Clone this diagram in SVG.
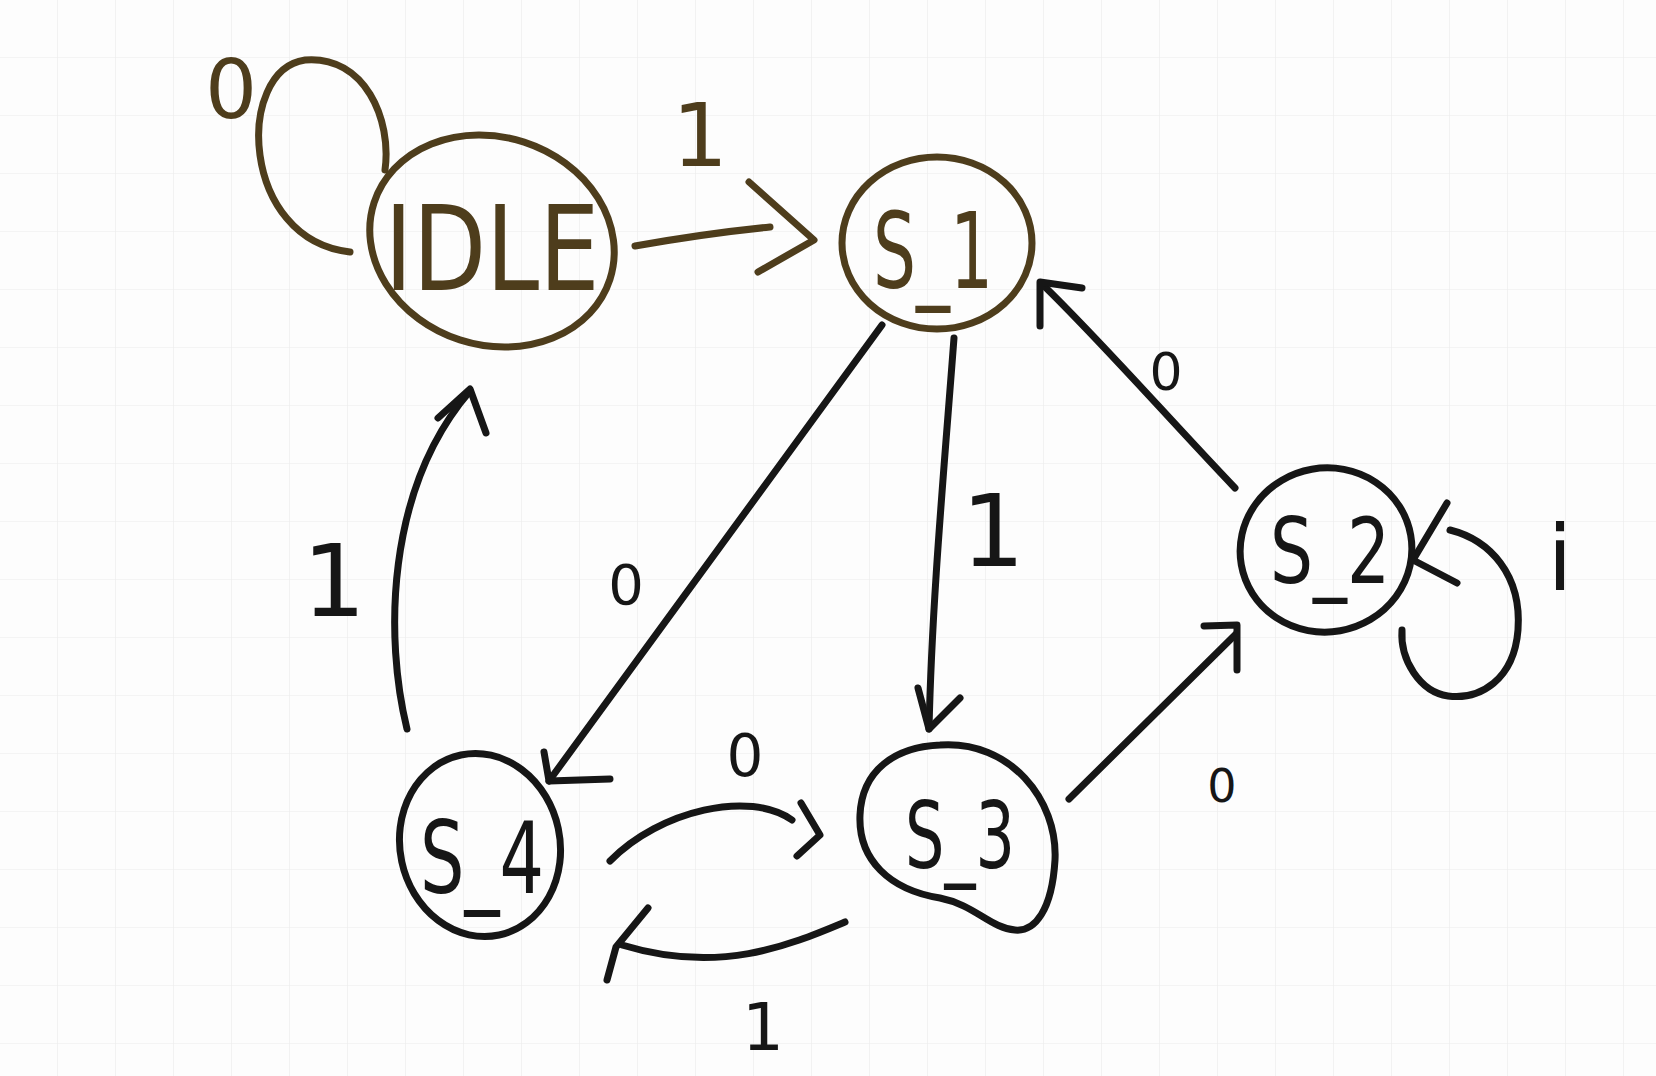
<svg xmlns="http://www.w3.org/2000/svg" width="1656" height="1076" viewBox="0 0 1656 1076">
<defs>
<pattern id="grid" width="58" height="58" patternUnits="userSpaceOnUse">
<path d="M58 0 V58 M0 58 H58" fill="none" stroke="#ececec" stroke-width="1.2"/>
</pattern>
<style>
.brown{stroke:#4e3d1c;fill:none;stroke-width:7;stroke-linecap:round;stroke-linejoin:round}
.dark{stroke:#161616;fill:none;stroke-width:7;stroke-linecap:round;stroke-linejoin:round}
.nodeb{fill:#4e3d1c;font-family:"DejaVu Sans","Liberation Sans",sans-serif;text-anchor:middle}
.noded{fill:#161616;font-family:"DejaVu Sans","Liberation Sans",sans-serif;text-anchor:middle}
.lbl{font-family:"DejaVu Sans","Liberation Sans",sans-serif;text-anchor:middle}
</style>
</defs>
<rect width="1656" height="1076" fill="#fdfdfd"/>
<rect width="1656" height="1076" fill="url(#grid)"/>

<g id="connectors">
<g id="e-idle-idle">
<path class="brown" d="M350 252 C 240 240, 235 70, 305 60 C 365 55, 392 120, 385 170"/>
<text class="lbl" x="231" y="118" font-size="82" fill="#4e3d1c">0</text>
</g>
<g id="e-idle-s1">
<path class="brown" d="M635 246 C 680 238, 720 232, 770 227"/>
<path class="brown" d="M749 182 L 814 240 L 758 272"/>
<text class="lbl" x="700" y="166" font-size="88" fill="#4e3d1c">1</text>
</g>
<g id="e-s1-s4">
<path class="dark" d="M882 325 L 549 781"/>
<path class="dark" d="M544 752 L 549 781 L 610 779"/>
<text class="lbl" x="626" y="604" font-size="56" fill="#161616">0</text>
</g>
<g id="e-s1-s3">
<path class="dark" d="M954 338 C 944 470, 932 600, 929 729"/>
<path class="dark" d="M918 688 L 929 729 L 960 698"/>
<text class="lbl" x="993" y="566" font-size="100" fill="#161616">1</text>
</g>
<g id="e-s2-s1">
<path class="dark" d="M1235 488 C 1170 420, 1100 340, 1042 284"/>
<path class="dark" d="M1040 326 L 1040 282 L 1082 288"/>
<text class="lbl" x="1166" y="390" font-size="52" fill="#161616">0</text>
</g>
<g id="e-s2-s2">
<path class="dark" d="M1450 530 C 1490 540, 1522 575, 1518 630 C 1514 680, 1480 700, 1448 696 C 1420 692, 1400 660, 1402 630"/>
<path class="dark" d="M1447 503 L 1413 560 L 1457 583"/>
<text class="lbl" x="1560" y="590" font-size="90" fill="#161616">i</text>
</g>
<g id="e-s3-s2">
<path class="dark" d="M1069 799 L 1236 634"/>
<path class="dark" d="M1204 626 L 1237 625 L 1237 670"/>
<text class="lbl" x="1222" y="802" font-size="46" fill="#161616">0</text>
</g>
<g id="e-s4-idle">
<path class="dark" d="M407 729 C 385 640, 385 490, 470 391"/>
<path class="dark" d="M438 418 L 470 389 L 486 433"/>
<text class="lbl" x="334" y="616" font-size="100" fill="#161616">1</text>
</g>
<g id="e-s4-s3">
<path class="dark" d="M610 861 C 660 810, 750 790, 792 820"/>
<path class="dark" d="M801 803 L 820 835 L 797 856"/>
<text class="lbl" x="745" y="776" font-size="58" fill="#161616">0</text>
</g>
<g id="e-s3-s4">
<path class="dark" d="M845 922 C 790 945, 720 975, 622 945"/>
<path class="dark" d="M648 908 L 616 947 L 607 980"/>
<text class="lbl" x="763" y="1050" font-size="66" fill="#161616">1</text>
</g>
</g>

<g id="node-idle">
<ellipse class="brown" cx="492" cy="241" rx="124" ry="104" transform="rotate(18 492 241)"/>
<text class="nodeb" x="492" y="290" font-size="118" textLength="215" lengthAdjust="spacingAndGlyphs">IDLE</text>
</g>
<g id="node-s1">
<ellipse class="brown" cx="937" cy="243" rx="95" ry="86"/>
<text class="nodeb" x="933" y="288" font-size="105" textLength="120" lengthAdjust="spacingAndGlyphs">S_1</text>
</g>
<g id="node-s2">
<ellipse class="dark" cx="1326" cy="550" rx="86" ry="82" transform="rotate(-10 1326 550)"/>
<text class="noded" x="1330" y="583" font-size="90" textLength="120" lengthAdjust="spacingAndGlyphs">S_2</text>
</g>
<g id="node-s3">
<path class="dark" d="M940 745 C 1010 740, 1058 800, 1055 860 C 1052 910, 1035 932, 1015 930 C 990 928, 975 905, 940 898 C 890 890, 858 860, 860 815 C 862 770, 895 747, 940 745 Z"/>
<text class="noded" x="960" y="868" font-size="92" textLength="110" lengthAdjust="spacingAndGlyphs">S_3</text>
</g>
<g id="node-s4">
<ellipse class="dark" cx="480" cy="845" rx="80" ry="92" transform="rotate(-12 480 845)"/>
<text class="noded" x="482" y="893" font-size="100" textLength="124" lengthAdjust="spacingAndGlyphs">S_4</text>
</g>
</svg>
